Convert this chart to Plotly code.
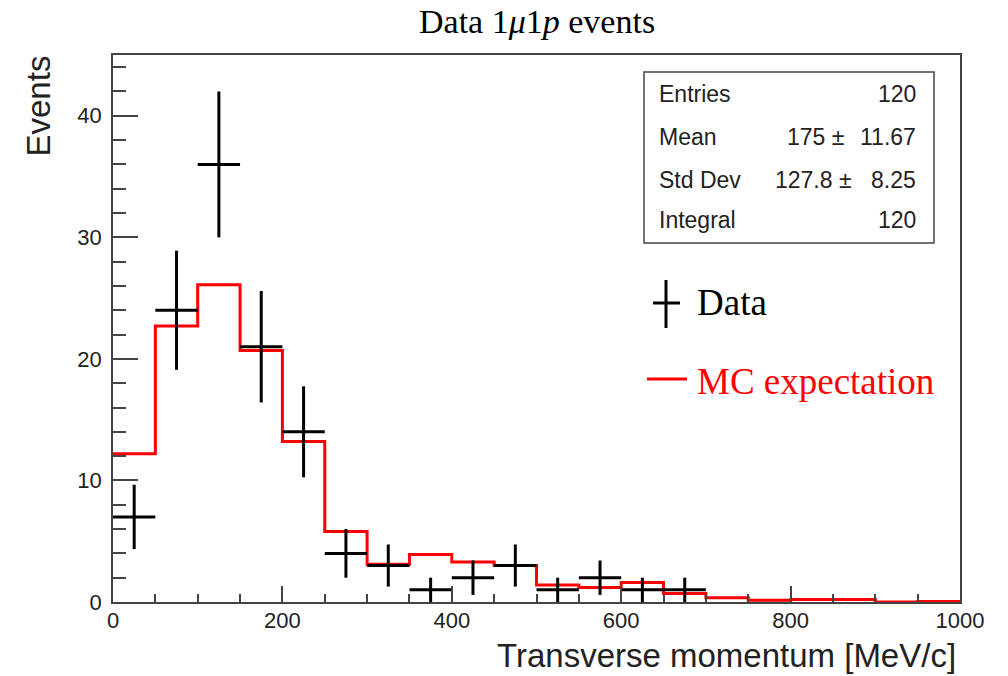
import numpy as np
import plotly.graph_objects as go

# Histogram binning: 20 bins of 50 MeV/c between 0 and 1000
bin_edges = list(range(0, 1001, 50))

# Observed 1mu1p event counts per bin
data_counts = [7, 24, 36, 21, 14, 4, 3, 1, 2, 3, 1, 2, 1, 1, 0, 0, 0, 0, 0, 0]

# Monte Carlo expectation per bin
mc_expect = [12.2, 22.7, 26.1, 20.7, 13.2, 5.8, 3.1, 3.9, 3.3, 3.0,
             1.4, 1.2, 1.6, 0.7, 0.35, 0.15, 0.2, 0.2, 0.0, 0.05]

# Statistics box rows: (label, value, uncertainty)
stats_rows = [("Entries", "120", ""),
              ("Mean", "175 \u00b1", "11.67"),
              ("Std Dev", "127.8 \u00b1", "8.25"),
              ("Integral", "120", "")]

W, H = 1008, 676
L, R, T, B = 113, 960, 55, 602   # plot-area frame in pixels


def px_x(x):
    return (x - L) / (R - L)


def px_y(y):
    return (B - y) / (B - T)


centers = [(a + b) / 2 for a, b in zip(bin_edges[:-1], bin_edges[1:])]
half_w = [(b - a) / 2 for a, b in zip(bin_edges[:-1], bin_edges[1:])]

# Only non-empty bins get a data point
sel = [i for i, n in enumerate(data_counts) if n > 0]
dx = [centers[i] for i in sel]
dy = [data_counts[i] for i in sel]
dex = [half_w[i] for i in sel]
dey = [float(np.sqrt(data_counts[i])) for i in sel]

fig = go.Figure()

# MC expectation as a step histogram
fig.add_trace(go.Scatter(
    x=bin_edges, y=mc_expect + [mc_expect[-1]],
    mode="lines", line=dict(color="#ff0000", width=3, shape="hv"),
    showlegend=False, hoverinfo="skip"))

# Data points with bin-width and Poisson error bars
fig.add_trace(go.Scatter(
    x=dx, y=dy, mode="markers",
    marker=dict(size=2, color="black"),
    error_x=dict(type="data", array=dex, width=0, thickness=3, color="black"),
    error_y=dict(type="data", array=dey, width=0, thickness=3, color="black"),
    showlegend=False))

axis_font = dict(family="Liberation Sans, Arial, sans-serif", size=22, color="#222")

fig.update_xaxes(
    range=[0, 1000], showgrid=False, zeroline=False,
    showline=True, linecolor="#444", linewidth=2, mirror=True,
    ticks="inside", tickmode="linear", tick0=0, dtick=200,
    ticklen=16, tickwidth=1.5, tickcolor="#444",
    minor=dict(ticks="inside", dtick=50, ticklen=8, tickwidth=1.5, tickcolor="#444"),
    tickfont=axis_font, ticklabelstandoff=-2)

fig.update_yaxes(
    range=[0, 45], showgrid=False, zeroline=False,
    showline=True, linecolor="#444", linewidth=1.5, mirror=True,
    ticks="inside", tickmode="linear", tick0=0, dtick=10,
    ticklen=25, tickwidth=1.5, tickcolor="#444",
    minor=dict(ticks="inside", dtick=2, ticklen=13, tickwidth=1.5, tickcolor="#444"),
    tickfont=axis_font, ticklabelstandoff=5)

serif = "Liberation Serif, Times New Roman, serif"
sans = "Liberation Sans, Arial, sans-serif"

annotations = [
    # title
    dict(text="Data 1<i>\u03bc</i>1<i>p</i> events", x=px_x(537), y=px_y(21),
         xref="paper", yref="paper", xanchor="center", yanchor="middle",
         showarrow=False, font=dict(family=serif, size=34, color="black")),
    # axis titles
    dict(text="Events", textangle=-90, x=px_x(38), y=px_y(54),
         xref="paper", yref="paper", xanchor="center", yanchor="top",
         showarrow=False, font=dict(family=sans, size=33, color="#222")),
    dict(text="Transverse momentum [MeV/c]", x=px_x(958), y=px_y(655),
         xref="paper", yref="paper", xanchor="right", yanchor="middle",
         showarrow=False, font=dict(family=sans, size=33, color="#222")),
    # legend
    dict(text="Data", x=px_x(695), y=px_y(302),
         xref="paper", yref="paper", xanchor="left", yanchor="middle",
         showarrow=False, font=dict(family=serif, size=37, color="black")),
    dict(text="MC expectation", x=px_x(695), y=px_y(381),
         xref="paper", yref="paper", xanchor="left", yanchor="middle",
         showarrow=False, font=dict(family=serif, size=37, color="#ff0000")),
]

row_y = [94, 137, 180, 220]
pm_right = [918, 846, 854, 918]
for (lab, val, err), yy, xr in zip(stats_rows, row_y, pm_right):
    annotations.append(dict(text=lab, x=px_x(657), y=px_y(yy), xref="paper", yref="paper",
                            xanchor="left", yanchor="middle", showarrow=False,
                            font=dict(family=sans, size=23, color="#222")))
    annotations.append(dict(text=val, x=px_x(xr), y=px_y(yy), xref="paper", yref="paper",
                            xanchor="right", yanchor="middle", showarrow=False,
                            font=dict(family=sans, size=23, color="#222")))
    if err:
        annotations.append(dict(text=err, x=px_x(918), y=px_y(yy), xref="paper", yref="paper",
                                xanchor="right", yanchor="middle", showarrow=False,
                                font=dict(family=sans, size=23, color="#222")))

shapes = [
    # statistics box
    dict(type="rect", xref="paper", yref="paper",
         x0=px_x(644), x1=px_x(934), y0=px_y(243), y1=px_y(72),
         line=dict(color="#444", width=1.5), fillcolor="white", layer="above"),
    # legend glyph: data cross
    dict(type="line", xref="paper", yref="paper",
         x0=px_x(666), x1=px_x(666), y0=px_y(280), y1=px_y(328),
         line=dict(color="black", width=3)),
    dict(type="line", xref="paper", yref="paper",
         x0=px_x(653), x1=px_x(680), y0=px_y(303), y1=px_y(303),
         line=dict(color="black", width=3)),
    # legend glyph: MC line
    dict(type="line", xref="paper", yref="paper",
         x0=px_x(647), x1=px_x(687), y0=px_y(379), y1=px_y(379),
         line=dict(color="#ff0000", width=3)),
]

fig.update_layout(
    width=W, height=H,
    margin=dict(l=L, r=W - R, t=T, b=H - B, pad=0),
    paper_bgcolor="white", plot_bgcolor="white",
    annotations=annotations, shapes=shapes,
    showlegend=False)

fig.write_html("out.html")
